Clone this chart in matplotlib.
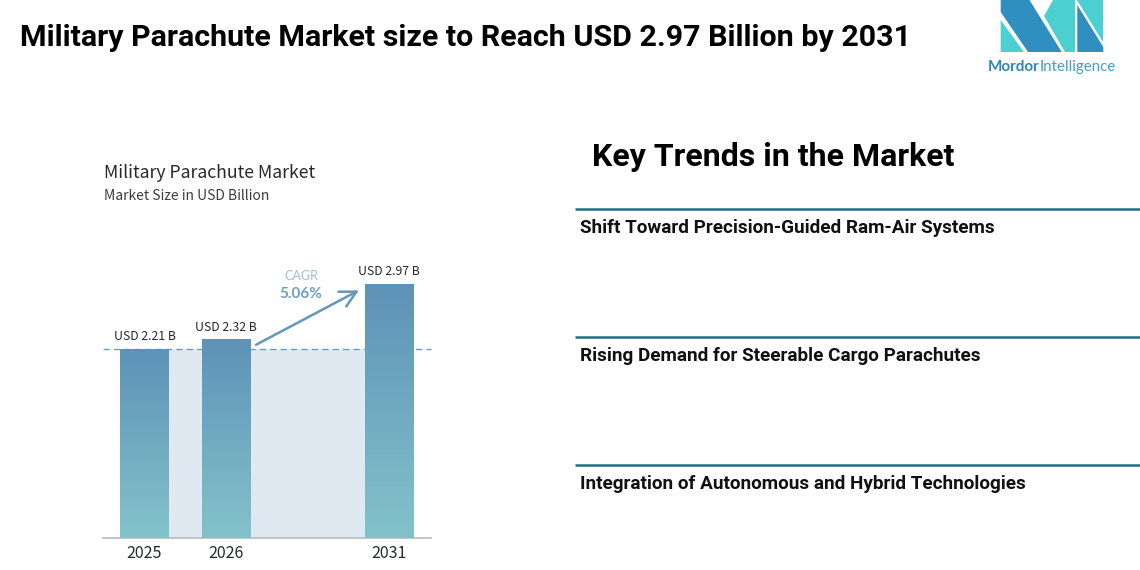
import numpy as np
import matplotlib
matplotlib.use("Agg")
import matplotlib.pyplot as plt
from matplotlib.colors import LinearSegmentedColormap
from matplotlib.patches import Polygon

years = ["2025", "2026", "2031"]
positions = [0, 1, 3]
values = [2.21, 2.32, 2.97]
value_labels = ["USD 2.21 B", "USD 2.32 B", "USD 2.97 B"]
trends = ["Shift Toward Precision-Guided Ram-Air Systems",
          "Rising Demand for Steerable Cargo Parachutes",
          "Integration of Autonomous and Hybrid Technologies"]
title = "Military Parachute Market size to Reach USD 2.97 Billion by 2031"

W, H = 1140, 570
fig = plt.figure(figsize=(W / 100, H / 100), dpi=100, facecolor="white")

page = fig.add_axes([0, 0, 1, 1])
page.set_xlim(0, W)
page.set_ylim(H, 0)
page.axis("off")

CH = "Noto Sans CJK JP"
L, R, B, T = 103, 431, 538.3, 260
ax = fig.add_axes([L / W, 1 - B / H, (R - L) / W, (B - T) / H])
ax.patch.set_alpha(0)
for s in ["top", "left", "right"]:
    ax.spines[s].set_visible(False)
ax.spines["bottom"].set_color("#b9bcbf")
ax.spines["bottom"].set_linewidth(1.2)
ax.set_yticks([])
ax.set_xticks(positions)
ax.set_xticklabels(years, fontsize=11.5, fontfamily=CH, color="#26292c")
ax.tick_params(axis="x", length=0, pad=5)

width = 0.6
ax.fill_between([positions[0] - width / 2, positions[-1] + width / 2], 0, values[0],
                color="#dfe9f1", lw=0, zorder=1)
ax.axhline(values[0], color="#6f9cbc", lw=1, ls=(0, (4.5, 3)), zorder=2, clip_on=False)

cmap = LinearSegmentedColormap.from_list("bar", ["#82c3ca", "#5e92b8"])
grad = np.linspace(0, 1, 256).reshape(-1, 1)
for p, v, lab in zip(positions, values, value_labels):
    ax.imshow(grad, origin="lower", cmap=cmap, aspect="auto", zorder=3,
              extent=(p - width / 2, p + width / 2, 0, v))
    ax.text(p, v + 0.07, lab, ha="center", va="bottom", fontsize=8.8,
            fontfamily=CH, color="#26292c", zorder=5)
ax.set_xlim(-0.509, 3.515)
ax.set_ylim(0, (B - T) / 85.5)

ax.annotate("", xy=(2.63, 2.90), xytext=(1.368, 2.263),
            arrowprops=dict(arrowstyle="->,head_length=1.15,head_width=0.6",
                            color="#6497bb", lw=1.8, shrinkA=0, shrinkB=0), zorder=4)
ax.text(1.92, 3.07, "CAGR", ha="center", va="center", fontsize=9,
        fontfamily="Lato", color="#9fc0d6")
ax.text(1.92, 2.86, "5.06%", ha="center", va="center", fontsize=11,
        fontfamily="Lato", fontweight="bold", color="#6f9fc1")

page.text(20, 38, title, fontsize=21.85, fontweight="bold", fontfamily="Roboto",
          color="black", ha="left", va="center")
page.text(104, 173, "Military Parachute Market", fontsize=12.7, fontfamily=CH,
          color="#26292c", ha="left", va="center")
page.text(104, 196, "Market Size in USD Billion", fontsize=10, fontfamily=CH,
          color="#3a3d40", ha="left", va="center")
page.text(592, 157, "Key Trends in the Market", fontsize=23.05, fontweight="bold",
          fontfamily="Roboto", color="black", ha="left", va="center")

for y, t in zip([209, 337, 465], trends):
    page.plot([574.5, W], [y, y], color="#1f6f8f", lw=1.8, solid_capstyle="butt")
    page.text(580, y + 19, t, fontsize=13.6, fontweight="bold", fontfamily="Roboto",
              color="#111111", ha="left", va="center")

blue, teal = "#2f8fc0", "#4bcfd0"
for pts, col in [
    ([(1000.7, 20), (1024, 52), (1000.7, 52)], teal),
    ([(1000.7, 0), (1029.5, 0), (1061.7, 52), (1028, 52), (1000.7, 12)], blue),
    ([(1053, 0), (1075, 0), (1075, 52), (1065, 52), (1044, 16)], teal),
    ([(1077.3, 5), (1103.3, 47), (1103.3, 52), (1077.3, 52)], blue),
    ([(1077.3, 0), (1103.3, 0), (1103.3, 42)], teal),
]:
    page.add_patch(Polygon(pts, closed=True, fc=col, ec="none"))
page.text(988, 67, "Mordor", fontsize=11, fontweight="bold", fontfamily="Lato",
          color="#2f86b8", ha="left", va="center")
page.text(1116, 67, "Intelligence", fontsize=10.8, fontfamily="Lato",
          color="#4a9cc4", ha="right", va="center")

fig.savefig("out.png", dpi=100, facecolor="white")
